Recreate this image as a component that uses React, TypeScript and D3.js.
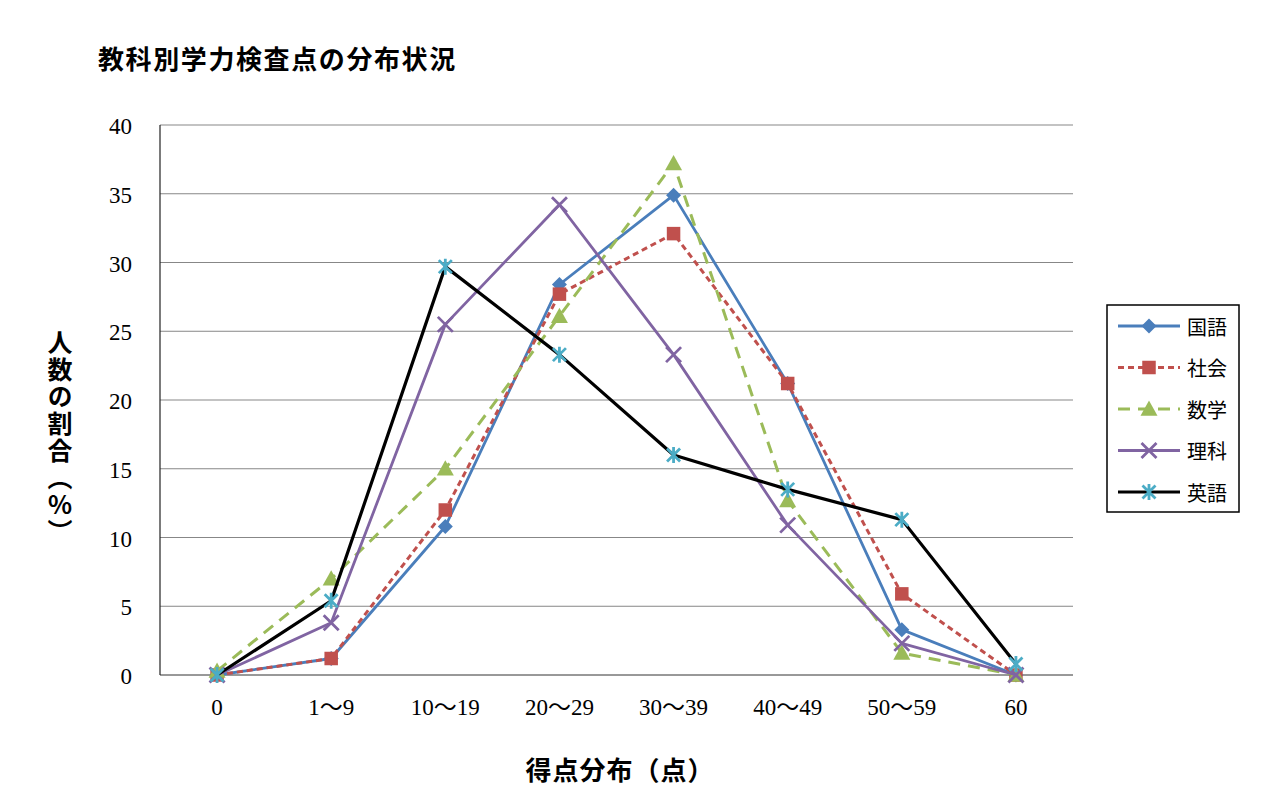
import React from 'react';
import * as d3 from 'd3';

// categories on the x axis (score ranges)
const categories = ['0', '1～9', '10～19', '20～29', '30～39', '40～49', '50～59', '60'];
const yTicks = [0, 5, 10, 15, 20, 25, 30, 35, 40];

// percentage of students per score range
const kokugo = [0, 1.2, 10.8, 28.4, 34.9, 21.2, 3.3, 0];
const shakai = [0, 1.2, 12.0, 27.7, 32.1, 21.2, 5.9, 0];
const sugaku = [0.3, 7.0, 15.0, 26.1, 37.2, 12.7, 1.6, 0];
const rika = [0, 3.8, 25.5, 34.2, 23.3, 10.9, 2.3, 0];
const eigo = [0, 5.4, 29.7, 23.3, 16.0, 13.5, 11.3, 0.8];

type MarkerKind = 'diamond' | 'square' | 'triangle' | 'x' | 'star';

interface Series {
  name: string;
  values: number[];
  line: string;
  marker: string;
  dash: string;
  width: number;
  kind: MarkerKind;
}

const series: Series[] = [
  { name: '国語', values: kokugo, line: '#4A7EBB', marker: '#4A7EBB', dash: '', width: 2.8, kind: 'diamond' },
  { name: '社会', values: shakai, line: '#C0504D', marker: '#C0504D', dash: '6,4', width: 3, kind: 'square' },
  { name: '数学', values: sugaku, line: '#9BBB59', marker: '#9BBB59', dash: '12,8', width: 3, kind: 'triangle' },
  { name: '理科', values: rika, line: '#8064A2', marker: '#8064A2', dash: '', width: 2.8, kind: 'x' },
  { name: '英語', values: eigo, line: '#000000', marker: '#4BACC6', dash: '', width: 3.2, kind: 'star' },
];

const width = 1280;
const height = 805;
const margin = { top: 125, right: 207, bottom: 130, left: 160 };

const Marker: React.FC<{ kind: MarkerKind; x: number; y: number; color: string }> = ({ kind, x, y, color }) => {
  if (kind === 'diamond') {
    const r = 7.5;
    return <path d={`M${x},${y - r}L${x + r},${y}L${x},${y + r}L${x - r},${y}Z`} fill={color} />;
  }
  if (kind === 'square') {
    const s = 13.5;
    return <rect x={x - s / 2} y={y - s / 2} width={s} height={s} fill={color} />;
  }
  if (kind === 'triangle') {
    const r = 8.5;
    return <path d={`M${x},${y - r}L${x + r},${y + r * 0.8}L${x - r},${y + r * 0.8}Z`} fill={color} />;
  }
  if (kind === 'x') {
    const r = 7.5;
    return (
      <path
        d={`M${x - r},${y - r}L${x + r},${y + r}M${x - r},${y + r}L${x + r},${y - r}`}
        stroke={color}
        strokeWidth={2.8}
        fill="none"
      />
    );
  }
  const r = 6.5;
  return (
    <path
      d={`M${x - r},${y - r}L${x + r},${y + r}M${x - r},${y + r}L${x + r},${y - r}M${x},${y - r - 1.5}L${x},${y + r + 1.5}`}
      stroke={color}
      strokeWidth={2.8}
      fill="none"
    />
  );
};

const App: React.FC = () => {
  const x = d3
    .scalePoint<string>()
    .domain(categories)
    .range([margin.left, width - margin.right])
    .padding(0.5);

  const y = d3
    .scaleLinear()
    .domain([0, 40])
    .range([height - margin.bottom, margin.top]);

  const line = d3
    .line<number>()
    .x((_, i) => x(categories[i]) as number)
    .y((d) => y(d));

  const serif = '"Liberation Serif", "DejaVu Serif", "Noto Sans CJK JP", serif';
  const jp = '"Noto Sans CJK JP", sans-serif';

  const legendX = 1107;
  const legendY = 305;
  const legendStep = 41.5;

  return (
    <svg
      width={width}
      height={height}
      style={{ position: 'absolute', left: 0, top: 0, background: '#fff' }}
    >
      {/* title */}
      <text x={98} y={57} fontFamily={jp} fontWeight="bold" fontSize={26} letterSpacing={1.6} dominantBaseline="central">
        教科別学力検査点の分布状況
      </text>

      {/* gridlines */}
      {yTicks.map((t) => (
        <line
          key={t}
          x1={margin.left}
          x2={width - margin.right}
          y1={y(t)}
          y2={y(t)}
          stroke={t === 0 ? '#333' : '#878787'}
          strokeWidth={1}
        />
      ))}
      <line x1={margin.left} x2={margin.left} y1={y(40)} y2={y(0)} stroke="#222" strokeWidth={1.2} />

      {/* y tick labels */}
      {yTicks.map((t) => (
        <text key={t} x={132} y={y(t) + 9} textAnchor="end" fontFamily={serif} fontSize={23}>
          {t}
        </text>
      ))}

      {/* x tick labels */}
      {categories.map((c) => (
        <text key={c} x={x(c)} y={715} textAnchor="middle" fontFamily={serif} fontSize={23}>
          {c}
        </text>
      ))}

      {/* axis titles */}
      <text x={620} y={768} textAnchor="middle" fontFamily={jp} fontWeight="bold" fontSize={26} letterSpacing={1} dominantBaseline="central">
        得点分布（点）
      </text>
      <text
        x={60}
        y={438}
        textAnchor="middle"
        fontFamily={jp}
        fontWeight="bold"
        fontSize={25}
        letterSpacing={2}
        style={{ writingMode: 'vertical-rl' } as React.CSSProperties}
      >
        人数の割合（％）
      </text>

      {/* series */}
      {series.map((s) => (
        <g key={s.name}>
          <path
            d={line(s.values) ?? ''}
            fill="none"
            stroke={s.line}
            strokeWidth={s.width}
            strokeDasharray={s.dash}
            strokeLinejoin="round"
          />
          {s.values.map((v, i) => (
            <Marker key={i} kind={s.kind} x={x(categories[i]) as number} y={y(v)} color={s.marker} />
          ))}
        </g>
      ))}

      {/* legend */}
      <rect x={legendX} y={legendY} width={132} height={207} fill="#fff" stroke="#000" strokeWidth={1.5} />
      {series.map((s, i) => {
        const cy = legendY + 21 + i * legendStep;
        return (
          <g key={s.name}>
            <line
              x1={1118}
              x2={1180}
              y1={cy}
              y2={cy}
              stroke={s.line}
              strokeWidth={s.width}
              strokeDasharray={s.dash}
            />
            <Marker kind={s.kind} x={1149} y={cy} color={s.marker} />
            <text x={1187} y={cy} fontFamily={jp} fontSize={20} dominantBaseline="central">
              {s.name}
            </text>
          </g>
        );
      })}
    </svg>
  );
};

export default App;
